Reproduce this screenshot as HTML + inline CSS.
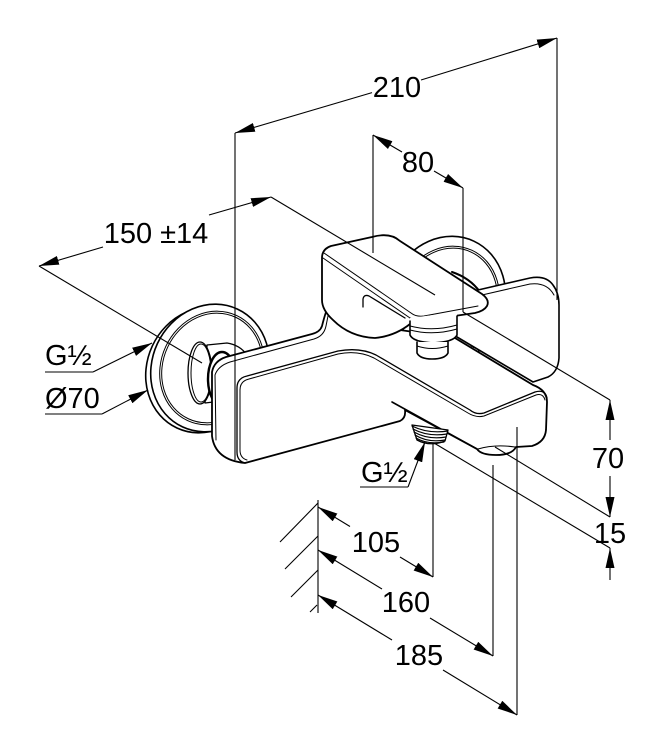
<!DOCTYPE html>
<html><head><meta charset="utf-8">
<style>
html,body{margin:0;padding:0;background:#fff;}
svg{display:block;}
text{font-family:"Liberation Sans",Arial,sans-serif;font-size:29px;fill:#000;}
</style></head><body>
<svg width="670" height="750" viewBox="0 0 670 750" xmlns="http://www.w3.org/2000/svg">
<defs>
<marker id="a" markerUnits="userSpaceOnUse" markerWidth="20" markerHeight="9" refX="20" refY="4.5" orient="auto"><path d="M0,0 L20,4.5 L0,9 Z" fill="#000"/></marker>
</defs>
<rect width="670" height="750" fill="#fff"/>

<g fill="#fff" stroke="#000" stroke-width="1.6" stroke-linejoin="round" stroke-linecap="round">
 <!-- left flange: back disc then front -->
 <ellipse cx="204" cy="370" rx="57" ry="64" transform="rotate(25 204 370)"/>
 <ellipse cx="210" cy="368" rx="58" ry="65" transform="rotate(25 210 368)"/>
 <ellipse cx="212" cy="368" rx="51" ry="58" transform="rotate(25 212 368)" stroke-width="1"/>
 <ellipse cx="212" cy="368" rx="49" ry="56" transform="rotate(25 212 368)" stroke-width="1"/>
 <!-- hub -->
 <path d="M207,345 L227,343 Q240,345 247,355 L230,400 L205,403 Z" stroke-width="1.3"/>
 <ellipse cx="200" cy="373" rx="12" ry="31" stroke-width="1.3"/>
 <ellipse cx="201" cy="373" rx="10" ry="29" stroke-width="1"/>
 <!-- nut -->
 <ellipse cx="222" cy="379" rx="14" ry="27" stroke-width="2.4"/>

 <!-- right flange -->
 <ellipse cx="446" cy="301" rx="58" ry="66" transform="rotate(25 446 301)"/>
 <ellipse cx="448" cy="302" rx="50" ry="57" transform="rotate(25 448 302)" stroke-width="1"/>
 <ellipse cx="448" cy="302" rx="48" ry="55" transform="rotate(25 448 302)" stroke-width="1"/>
 <path d="M452,272 Q470,278 480,292" fill="none" stroke-width="2"/>

 <!-- right plate -->
 <path d="M440,300 L478,290 L530,278 Q546,275 553,285 Q559,293 559,305 L559,358 Q558,372 548,377 L533,382 L457,337 L440,320 Z"/>
 <path d="M482,295 L530,284 Q547,282 554,295" fill="none" stroke-width="1"/>

 <!-- body + spout -->
 <path d="M212,372 Q214,361 226,357 L312,334 Q320,332 322,326 Q324,318 326,312 L400,330 L455,338 L533,385 Q547,390 547,402 L546,430 Q545,442 532,446 L516,447 Q512,455 496,455 Q481,455 477,449 L405,410 Q406,418 400,421 L245,463 Q215,460 212,436 Z" stroke-width="1.8"/>
 <!-- end cap inner line -->
 <path d="M216,440 L215,375 Q218,366 230,362 L314,339 Q324,336 326,326 L328,316" fill="none" stroke-width="1"/>
 <!-- front panel double line -->
 <path d="M245,463 Q237,461 237,452 L237,388 Q237,378 247,376 L338,351 Q360,347 376,355 L470,410 Q476,415 484,413 L535,392 Q545,389 547,398" fill="none" stroke-width="1.3"/>
 <path d="M247,460 Q240,458 240,450 L240,390 Q240,381 249,379 L338,354 Q358,350 374,358 L468,413 Q476,418 484,416 L536,395 Q543,393 545,400" fill="none" stroke-width="1"/>
 <!-- spout lower edge -->
 <path d="M392,402 L477,449" fill="none"/>
 <path d="M478,449 Q495,444 515,447" fill="none" stroke-width="1"/>

 <!-- handle -->
 <path d="M322,300 L322,258 Q322,249 331,246 L372,237 Q390,232 400,241 L482,294 Q490,300 487,306 Q484,311 475,313 L420,321 L410,324 Q395,336 375,338 Q350,337 333,320 Q322,310 322,300 Z" stroke-width="1.8"/>
 <path d="M324,253 L411,313 Q416,317 424,316 L478,306" fill="none" stroke-width="1"/>
 <path d="M323,258 L410,318 Q416,321 424,320" fill="none" stroke-width="1"/>
 <path d="M363,307 L363,299 Q364,294 369,296 L405,318" fill="none" stroke-width="1.3"/>

 <!-- cartridge -->
 <path d="M410,318 L457,312 L457,335 Q454,342 433,343 Q413,342 410,335 Z" stroke="none"/>
 <path d="M410,321 L410,335 Q413,342 433,343 Q454,342 457,335 L457,316" fill="none"/>
 <path d="M410,326 Q433,332 457,325 M410,330 Q433,336 457,329" fill="none" stroke-width="1"/>
 <path d="M417,342 L417,353 Q420,359 432,359 Q445,359 448,353 L448,342"/>
 <path d="M417,346 Q432,351 448,346" fill="none" stroke-width="1"/>

 <!-- thread -->
 <path d="M412,425 L448,430 L445,441 Q430,447 417,440 Z" stroke-width="1.3"/>
 <g fill="none" stroke-width="1.2">
  <path d="M412,426 Q428,434 448,431"/>
  <path d="M413,429 Q428,437 447,434"/>
  <path d="M414,432 Q428,440 446,437"/>
  <path d="M415,435 Q428,443 445,440"/>
  <path d="M416,438 Q428,445 444,442"/>
 </g>
</g>

<!-- dimension / extension lines -->
<g fill="none" stroke="#000" stroke-width="1.1">
 <path d="M235,133 L235,460"/>
 <path d="M557,38 L557,300"/>
 <path d="M373,135 L373,253"/>
 <path d="M463,188 L463,312"/>
 <path d="M39,266 L202,363"/>
 <path d="M271,197 L435,295"/>
 <path d="M463,312 L610,400"/>
 <path d="M495,447 L610,517"/>
 <path d="M434,443 L610,548"/>
 <path d="M318,500 L318,613"/>
 <path d="M280,542 L318,503"/>
 <path d="M285,569 L318,536"/>
 <path d="M291,597 L318,570"/>
 <path d="M310,612 L317,605"/>
 <path d="M433,443 L433,577"/>
 <path d="M493,465 L493,656"/>
 <path d="M517,427 L517,715"/>

 <g marker-end="url(#a)">
  <path d="M372,92.6 L235,133"/>
  <path d="M421,80 L557,38"/>
  <path d="M402,152 L373,135"/>
  <path d="M434,171 L463,188"/>
  <path d="M103,247 L39,266"/>
  <path d="M209,215 L271,197"/>
  <path d="M610,440 L610,400"/>
  <path d="M610,476 L610,517"/>
  <path d="M610,580 L610,548"/>
  <path d="M350,526.5 L318,507"/>
  <path d="M400,557 L433,577"/>
  <path d="M382,589 L318,550"/>
  <path d="M430,618 L493,656"/>
  <path d="M392,640 L318,595"/>
  <path d="M443,670 L517,715"/>
  <path d="M408,487 L425,442"/>
  <path d="M93,372 L152,343"/>
  <path d="M102,414 L148,390"/>
 </g>
 <path d="M360,487 L408,487"/>
 <path d="M45,372 L93,372"/>
 <path d="M45,414 L102,414"/>
</g>

<!-- labels -->
<text x="397" y="97" text-anchor="middle">210</text>
<text x="418" y="172" text-anchor="middle">80</text>
<text x="156" y="243" text-anchor="middle">150 ±14</text>
<text x="45" y="365">G½</text>
<text x="45" y="408">Ø70</text>
<text x="361" y="482">G½</text>
<text x="608" y="468" text-anchor="middle">70</text>
<text x="610" y="543" text-anchor="middle">15</text>
<text x="376" y="552" text-anchor="middle">105</text>
<text x="406" y="612" text-anchor="middle">160</text>
<text x="419" y="665" text-anchor="middle">185</text>
</svg>
</body></html>
